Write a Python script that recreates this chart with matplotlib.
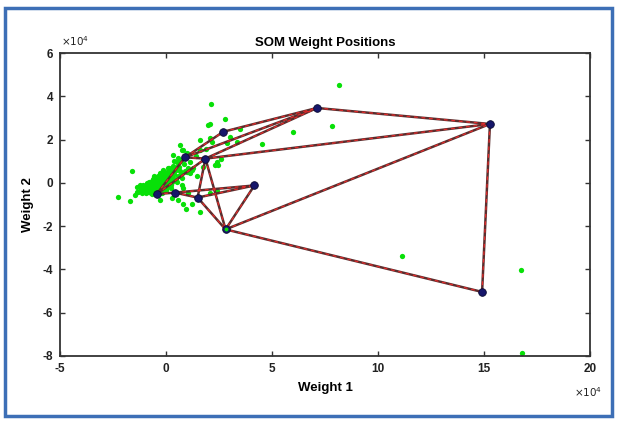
import matplotlib
matplotlib.use("Agg")
import matplotlib.pyplot as plt
from matplotlib.patches import Rectangle

plt.rcParams["font.family"] = ["Liberation Sans", "DejaVu Sans"]

# all values in units of 1e4
# input vectors (green dots)
input_x = [
    8.16, 2.12, 2.08, 2.80, 3.49, 6.00, 7.82, 11.15, 16.75, 16.80,
    4.51, 1.60, 3.02, 3.33, 0.66, 0.80, 0.33, -1.59, -2.25, -1.70,
    -1.38, 1.60, 0.82, 1.21, 0.27, 0.58, -0.28, 2.08, 2.39, 1.05,
    2.39, 2.31, 2.86, 1.60, 1.75, 1.21, 0.98, 2.00, 2.08, 2.16,
    2.46, 0.74, 1.13, 1.29, 1.13, 0.74, 0.50, 0.74, 0.82,
    -1.30, -1.20, -1.15, -1.05, -1.00, -0.95, -0.90, -0.85, -0.80, -0.75,
    -0.70, -0.68, -0.62, -0.58, -0.55, -0.50, -0.48, -0.45, -0.40, -0.38,
    -0.35, -0.30, -0.28, -0.25, -0.22, -0.18, -0.15, -0.12, -0.10, -0.05,
    -0.02, 0.00, 0.03, 0.05, 0.08, 0.10, 0.12, 0.15, 0.18, 0.20,
    0.25, 0.28, 0.30, 0.35, 0.40, 0.45, 0.50, 0.55, 0.60, 0.65,
    -1.45, -1.35, -0.65, -0.20, 0.00, 0.25, -0.90, -0.60, -0.40, -0.10,
    1.40, 1.90, 2.60, 0.95, 1.45,
    -1.10, -0.98, -0.88, -0.78, -0.66, -0.52, -0.42, -0.32, -0.20, -0.08,
    0.06, 0.16, 0.32, 0.42, 0.52, 0.62, 0.72, 0.85, 0.95, 1.05,
    -0.72, -0.56, -0.30, -0.14, 0.10, 0.36, 0.56, 0.70, 0.88, 1.00,
    -1.25, -0.82, -0.46, 0.22, 0.48,
]
input_y = [
    4.52, 3.64, 2.70, 2.93, 2.47, 2.33, 2.64, -3.38, -4.03, -7.85,
    1.78, 1.98, 2.10, 1.90, 1.75, 1.52, 1.28, 0.55, -0.67, -0.83,
    -0.41, -1.36, -0.98, -0.98, -0.72, -0.79, -0.79, -0.49, -0.37, -0.46,
    0.98, 0.82, 1.82, 1.52, 0.74, 0.59, 0.51, 2.67, 2.06, 1.90,
    0.82, 1.52, 0.98, 0.67, 0.44, 0.21, 0.05, -0.10, -0.25,
    -0.42, -0.30, -0.45, -0.35, -0.20, -0.48, -0.30, -0.15, -0.40, -0.25,
    -0.05, -0.35, -0.18, 0.02, -0.42, -0.25, -0.08, 0.10, -0.32, -0.15,
    0.05, 0.22, -0.40, -0.22, -0.02, 0.15, 0.30, -0.30, -0.10, 0.08,
    0.25, 0.40, -0.18, 0.00, 0.18, 0.35, 0.52, -0.05, 0.12, 0.30,
    0.45, 0.62, 0.05, 0.22, 0.40, 0.58, 0.75, 0.30, 0.95, 0.55,
    -0.55, -0.20, -0.50, -0.48, -0.35, -0.25, -0.05, 0.18, 0.30, 0.45,
    1.25, 1.55, 1.10, -1.20, 0.30,
    -0.12, -0.40, -0.02, -0.30, 0.08, -0.12, 0.20, 0.00, 0.35, 0.20,
    0.50, 0.70, 0.80, 0.15, 0.95, 0.72, 1.05, 0.85, 1.25, 0.70,
    -0.45, 0.30, 0.45, 0.60, 0.68, 1.00, 1.15, 0.40, 0.55, 1.40,
    -0.10, 0.05, -0.20, -0.10, 0.15,
]

# neuron weight positions
node_names = ["A", "B", "C", "D", "E", "F", "G", "I", "J", "K", "L"]
node_x = [2.70, 1.86, 0.90, 4.17, 1.49, 0.42, -0.44, 2.81, 7.12, 15.28, 14.91]
node_y = [2.36, 1.12, 1.18, -0.12, -0.68, -0.45, -0.52, -2.15, 3.46, 2.72, -5.04]

# neighbour connections
edges = [
    ("J", "K"), ("K", "L"), ("L", "I"), ("I", "K"), ("B", "K"),
    ("A", "J"), ("B", "J"), ("C", "J"), ("B", "E"), ("B", "I"),
    ("E", "I"), ("D", "I"), ("F", "D"), ("E", "D"), ("G", "C"),
    ("C", "A"), ("C", "B"), ("G", "F"), ("F", "E"), ("G", "B"),
]

x_ticks = [-5, 0, 5, 10, 15, 20]
y_ticks = [-8, -6, -4, -2, 0, 2, 4, 6]

W, H = 619, 421
fig = plt.figure(figsize=(W / 100, H / 100), dpi=100)
fig.patch.set_facecolor("white")

# screenshot frame
fig.patches.append(Rectangle((5 / W, 1 - 416 / H), 607 / W, 408 / H,
                             transform=fig.transFigure, fill=False,
                             edgecolor="#3d6fb6", linewidth=2.5))

ax = fig.add_axes([60 / W, 1 - 356 / H, 530 / W, 303 / H])

ax.plot(input_x, input_y, "o", color="#08e008", markersize=3.8,
        markeredgewidth=0, zorder=2)

pos = dict(zip(node_names, zip(node_x, node_y)))
for a, b in edges:
    xs = [pos[a][0], pos[b][0]]
    ys = [pos[a][1], pos[b][1]]
    ax.plot(xs, ys, color="#5a2e2e", linewidth=1.8, zorder=3,
            solid_capstyle="round")
    ax.plot(xs, ys, color="#e42a2a", linewidth=0.9, zorder=4,
            dashes=(3, 3))

ax.plot(node_x, node_y, "o", color="#16166a", markersize=5.5,
        markeredgecolor="#0a0a30", markeredgewidth=0.6, zorder=5)
# input point sitting on top of neuron I
ax.plot([pos["I"][0]], [pos["I"][1]], "o", color="#08e008", markersize=2.8,
        markeredgewidth=0, zorder=6)

ax.set_xlim(-5, 20)
ax.set_ylim(-8, 6)
ax.set_xticks(x_ticks)
ax.set_yticks(y_ticks)
ax.set_xticklabels([str(v) for v in x_ticks], fontsize=8.5, fontweight="bold", color="#222222")
ax.set_yticklabels([str(v) for v in y_ticks], fontsize=8.5, fontweight="bold", color="#222222")
ax.tick_params(direction="in", top=True, right=True, length=3.5, width=1,
               color="#333333", pad=5)
for s in ax.spines.values():
    s.set_color("#333333")
    s.set_linewidth(1.3)

ax.set_title("SOM Weight Positions", fontsize=9.5, fontweight="bold", pad=5)
ax.set_xlabel("Weight 1", fontsize=9.5, fontweight="bold", labelpad=5)
ax.set_ylabel("Weight 2", fontsize=9.5, fontweight="bold", labelpad=6)

fig.text(61 / W, 1 - 46 / H, r"$\times10^4$", fontsize=7.5, color="#222222",
         ha="left", va="baseline")
fig.text(574 / W, 1 - 397 / H, r"$\times10^4$", fontsize=7.5, color="#222222",
         ha="left", va="baseline")

fig.savefig("out.png", dpi=100)
